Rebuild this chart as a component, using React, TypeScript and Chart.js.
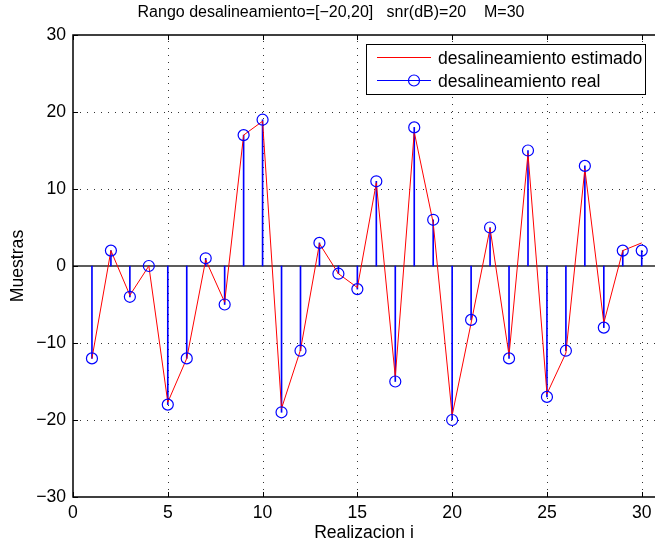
import React, { useEffect, useRef } from 'react';
import { Chart, registerables } from 'chart.js';

Chart.register(...registerables);

// Realization index, true misalignment (stems) and estimated misalignment (red line)
const realizaciones = [
  1, 2, 3, 4, 5, 6, 7, 8, 9, 10, 11, 12, 13, 14, 15,
  16, 17, 18, 19, 20, 21, 22, 23, 24, 25, 26, 27, 28, 29, 30,
];
const desalineamientoReal = [
  -12, 2, -4, 0, -18, -12, 1, -5, 17, 19, -19, -11, 3, -1, -3,
  11, -15, 18, 6, -20, -7, 5, -12, 15, -17, -11, 13, -8, 2, 2,
];
const desalineamientoEstimado = [
  -12, 2, -3.8, 0, -17.7, -12, 0.8, -4.7, 17, 18.8, -18.5, -10.9, 2.9, -1, -2.8,
  10.8, -14.4, 17.4, 5.6, -19.4, -7.4, 4.9, -11.6, 14.6, -16.6, -11.3, 12.6, -7.4, 2, 3,
];
const xTicks = [0, 5, 10, 15, 20, 25, 30];
const yTicks = [-30, -20, -10, 0, 10, 20, 30];

const titulo = 'Rango desalineamiento=[\u221220,20]   snr(dB)=20    M=30';
const etiquetaX = 'Realizacion i';
const etiquetaY = 'Muestras';
const leyenda = ['desalineamiento estimado', 'desalineamiento real'];

const FAMILY = '"Liberation Sans", Arial, Helvetica, sans-serif';
const AXIS_FONT = { family: FAMILY, size: 17.6 };
const BLUE = '#0000ff';
const RED = '#ff0000';

const toPoints = (ys: number[]) => realizaciones.map((x, i) => ({ x, y: ys[i] }));
const minusSign = (v: number | string) => String(v).replace('-', '\u2212');

// Dotted grid, stem baseline, axis box with inward ticks, legend and title
const matlabFrame = {
  id: 'matlabFrame',
  beforeDatasetsDraw(chart: any) {
    const { ctx, chartArea: a, scales } = chart;
    const x = scales.x;
    const y = scales.y;
    ctx.save();
    ctx.strokeStyle = 'rgba(0,0,0,0.8)';
    ctx.lineWidth = 1;
    ctx.setLineDash([1, 6]);
    ctx.beginPath();
    for (const v of xTicks) {
      if (v === xTicks[0]) continue;
      const px = Math.round(x.getPixelForValue(v)) + 0.5;
      ctx.moveTo(px, a.bottom);
      ctx.lineTo(px, a.top);
    }
    for (const v of yTicks) {
      if (v === yTicks[0] || v === yTicks[yTicks.length - 1]) continue;
      const py = Math.round(y.getPixelForValue(v)) + 0.5;
      ctx.moveTo(a.left, py);
      ctx.lineTo(a.right, py);
    }
    ctx.stroke();
    ctx.setLineDash([]);

    // stem baseline
    const y0 = y.getPixelForValue(0);
    ctx.strokeStyle = '#5c5c5c';
    ctx.lineWidth = 2;
    ctx.beginPath();
    ctx.moveTo(a.left, y0);
    ctx.lineTo(a.right, y0);
    ctx.stroke();
    ctx.restore();
  },
  afterDatasetsDraw(chart: any) {
    const { ctx, chartArea: a, scales } = chart;
    const x = scales.x;
    const y = scales.y;
    ctx.save();

    // axis box (right side falls outside the canvas)
    ctx.strokeStyle = '#000';
    ctx.lineWidth = 1.5;
    ctx.beginPath();
    ctx.moveTo(a.right + 2, a.top);
    ctx.lineTo(a.left, a.top);
    ctx.lineTo(a.left, a.bottom);
    ctx.lineTo(a.right + 2, a.bottom);
    ctx.stroke();

    // inward tick marks
    const tl = 5;
    ctx.lineWidth = 1;
    ctx.beginPath();
    for (const v of xTicks) {
      const px = Math.round(x.getPixelForValue(v)) + 0.5;
      ctx.moveTo(px, a.bottom);
      ctx.lineTo(px, a.bottom - tl);
      ctx.moveTo(px, a.top);
      ctx.lineTo(px, a.top + tl);
    }
    for (const v of yTicks) {
      const py = Math.round(y.getPixelForValue(v)) + 0.5;
      ctx.moveTo(a.left, py);
      ctx.lineTo(a.left + tl, py);
    }
    ctx.stroke();

    // legend
    const lx = a.left + 293;
    const ly = a.top + 9;
    const lw = 279;
    const lh = 50;
    ctx.fillStyle = '#fff';
    ctx.fillRect(lx, ly, lw, lh);
    ctx.strokeStyle = '#000';
    ctx.lineWidth = 1;
    ctx.strokeRect(lx + 0.5, ly + 0.5, lw, lh);

    const row1 = ly + 13.5;
    const row2 = ly + 36.5;
    ctx.lineWidth = 1;
    ctx.strokeStyle = RED;
    ctx.beginPath();
    ctx.moveTo(lx + 11, row1);
    ctx.lineTo(lx + 65, row1);
    ctx.stroke();
    ctx.strokeStyle = BLUE;
    ctx.beginPath();
    ctx.moveTo(lx + 11, row2);
    ctx.lineTo(lx + 65, row2);
    ctx.stroke();
    ctx.lineWidth = 1.2;
    ctx.beginPath();
    ctx.arc(lx + 48, row2, 5.5, 0, Math.PI * 2);
    ctx.stroke();

    ctx.fillStyle = '#000';
    ctx.font = `17.6px ${FAMILY}`;
    ctx.textAlign = 'left';
    ctx.textBaseline = 'alphabetic';
    ctx.fillText(leyenda[0], lx + 72, row1 + 6);
    ctx.fillText(leyenda[1], lx + 72, row2 + 6);
    ctx.restore();
  },
  afterDraw(chart: any) {
    const { ctx } = chart;
    ctx.save();
    ctx.fillStyle = '#000';
    ctx.font = `16px ${FAMILY}`;
    ctx.textAlign = 'center';
    ctx.textBaseline = 'alphabetic';
    ctx.fillText(titulo, 331, 16.5);
    ctx.restore();
  },
};

export default function App() {
  const canvasRef = useRef<HTMLCanvasElement | null>(null);

  useEffect(() => {
    const canvas = canvasRef.current;
    if (!canvas) return;
    const chart = new Chart(canvas, {
      type: 'line',
      data: {
        datasets: [
          {
            type: 'scatter',
            label: leyenda[1],
            data: toPoints(desalineamientoReal),
            pointRadius: 5.5,
            pointBorderWidth: 1.2,
            pointBorderColor: BLUE,
            pointBackgroundColor: 'rgba(0,0,0,0)',
            showLine: false,
            order: 0,
          } as any,
          {
            type: 'line',
            label: leyenda[0],
            data: toPoints(desalineamientoEstimado),
            borderColor: RED,
            borderWidth: 1,
            pointRadius: 0,
            tension: 0,
            fill: false,
            order: 1,
          } as any,
          {
            type: 'bar',
            label: 'stems',
            data: toPoints(desalineamientoReal),
            backgroundColor: BLUE,
            borderWidth: 0,
            barThickness: 1,
            order: 2,
          } as any,
        ],
      },
      options: {
        responsive: false,
        animation: false,
        devicePixelRatio: 1,
        layout: { autoPadding: false, padding: { top: 35, left: 0, right: 0, bottom: 0 } },
        plugins: {
          legend: { display: false },
          tooltip: { enabled: false },
          title: { display: false },
        },
        scales: {
          x: {
            type: 'linear',
            min: 0,
            max: 30.7,
            offset: false,
            afterBuildTicks: (s: any) => {
              s.ticks = xTicks.map((value) => ({ value }));
            },
            afterFit: (s: any) => {
              s.height = 50;
              s.paddingLeft = 0;
              s.paddingRight = 0;
            },
            grid: { display: false, drawTicks: false, offset: false },
            border: { display: false },
            ticks: {
              font: AXIS_FONT,
              color: '#000',
              padding: 6,
              maxRotation: 0,
              autoSkip: false,
              callback: (v: any) => minusSign(v),
            },
            title: {
              display: true,
              text: etiquetaX,
              font: AXIS_FONT,
              color: '#000',
              padding: { top: 0, bottom: 3 },
            },
          },
          y: {
            type: 'linear',
            min: -30,
            max: 30,
            afterBuildTicks: (s: any) => {
              s.ticks = yTicks.map((value) => ({ value }));
            },
            afterFit: (s: any) => {
              s.width = 73;
              s.paddingTop = 0;
              s.paddingBottom = 0;
            },
            grid: { display: false, drawTicks: false },
            border: { display: false },
            ticks: {
              font: AXIS_FONT,
              color: '#000',
              padding: 7,
              autoSkip: false,
              callback: (v: any) => minusSign(v),
            },
            title: {
              display: true,
              text: etiquetaY,
              font: AXIS_FONT,
              color: '#000',
              padding: { top: 8, bottom: 0 },
            },
          },
        },
      } as any,
      plugins: [matlabFrame],
    });
    return () => chart.destroy();
  }, []);

  return (
    <div style={{ position: 'absolute', left: 0, top: 0, width: 655, height: 547, background: '#fff' }}>
      <canvas ref={canvasRef} width={655} height={547} />
    </div>
  );
}
